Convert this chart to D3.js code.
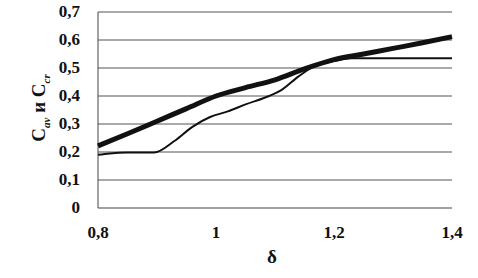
<!DOCTYPE html>
<html><head><meta charset="utf-8">
<script src="https://cdn.jsdelivr.net/npm/d3@7"></script>
<style>body{margin:0;background:#fff}svg{display:block}</style>
</head><body><svg width="478" height="278"></svg>
<script>
const xTicks = [0.8, 1, 1.2, 1.4];
const yTicks = [0, 0.1, 0.2, 0.3, 0.4, 0.5, 0.6, 0.7];
const thickX = [0.8, 0.85, 0.9, 0.95, 1.0, 1.05, 1.1, 1.15, 1.2, 1.25, 1.3, 1.35, 1.4];
const thickY = [0.222, 0.265, 0.31, 0.355, 0.40, 0.43, 0.458, 0.497, 0.53, 0.55, 0.57, 0.59, 0.612];
const thinX = [0.8, 0.82, 0.85, 0.895, 0.93, 0.96, 0.99, 1.02, 1.05, 1.09, 1.11, 1.14, 1.17, 1.2, 1.23, 1.4];
const thinY = [0.19, 0.195, 0.198, 0.198, 0.24, 0.29, 0.325, 0.345, 0.37, 0.40, 0.42, 0.47, 0.51, 0.525, 0.535, 0.535];

const FONT = "'Liberation Serif', 'DejaVu Serif', serif";
const svg = d3.select("svg").attr("font-family", FONT).attr("font-weight", "bold").attr("fill", "#111");
const x = d3.scaleLinear().domain([0.8, 1.4]).range([98, 452]);
const y = d3.scaleLinear().domain([0, 0.7]).range([208, 12]);
const fmt = d => String(d).replace(".", ",");

svg.append("g").selectAll("line").data(yTicks.filter(d => d > 0)).join("line")
  .attr("x1", x(0.8)).attr("x2", x(1.4)).attr("y1", d => y(d)).attr("y2", d => y(d))
  .attr("stroke", "#555").attr("stroke-width", 1);

svg.append("line").attr("x1", x(0.8)).attr("x2", x(0.8)).attr("y1", y(0)).attr("y2", y(0.7)).attr("stroke", "#444");
svg.append("line").attr("x1", x(0.8)).attr("x2", x(1.4)).attr("y1", y(0)).attr("y2", y(0)).attr("stroke", "#444");

svg.append("g").selectAll("text").data(yTicks).join("text")
  .attr("x", 80).attr("y", d => y(d) + 5).attr("text-anchor", "end").attr("font-size", 17).text(fmt);
svg.append("g").selectAll("text").data(xTicks).join("text")
  .attr("x", d => x(d)).attr("y", 238).attr("text-anchor", "middle").attr("font-size", 17).text(fmt);
svg.append("text").attr("x", 272).attr("y", 263).attr("text-anchor", "middle").attr("font-size", 19).text("δ");

const yl = svg.append("text").attr("transform", "translate(45,108) rotate(-90)").attr("text-anchor", "middle").attr("font-size", 19);
yl.append("tspan").text("C");
yl.append("tspan").attr("font-size", 11).attr("font-style", "italic").attr("dy", 5).text("av");
yl.append("tspan").attr("dy", -5).text(" и C");
yl.append("tspan").attr("font-size", 11).attr("font-style", "italic").attr("dy", 5).text("cr");

const line = d3.line().x(d => x(d[0])).y(d => y(d[1])).curve(d3.curveMonotoneX);
svg.append("path").datum(thinX.map((v, i) => [v, thinY[i]])).attr("d", line)
  .attr("fill", "none").attr("stroke", "#111").attr("stroke-width", 2);
svg.append("path").datum(thickX.map((v, i) => [v, thickY[i]])).attr("d", line)
  .attr("fill", "none").attr("stroke", "#111").attr("stroke-width", 5);
</script></body></html>
